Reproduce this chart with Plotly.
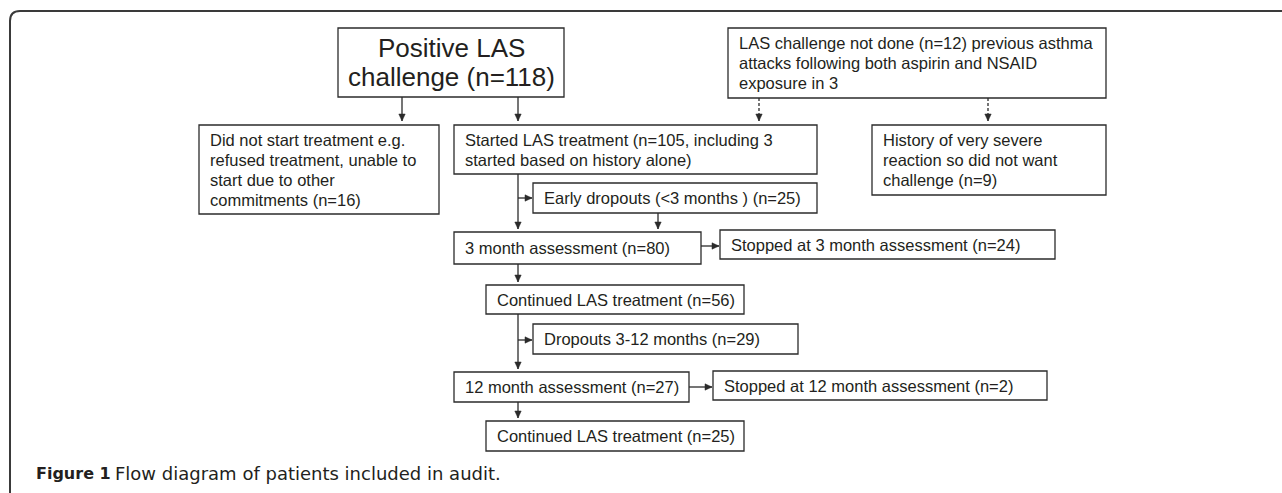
import plotly.graph_objects as go

# ---------------- data ----------------
box_keys = ["positive", "not_started", "started", "not_done", "history",
            "early_drop", "m3", "stop_m3", "cont_m3", "drop_3_12",
            "m12", "stop_m12", "cont_m12"]
box_counts = [118, 16, 105, 12, 9, 25, 80, 24, 56, 29, 27, 2, 25]
box_texts = [
    "Positive LAS|challenge (n={n})",
    "Did not start treatment e.g.|refused treatment, unable to|start due to other|commitments (n={n})",
    "Started LAS treatment (n={n}, including 3|started based on history alone)",
    "LAS challenge not done (n={n}) previous asthma|attacks following both aspirin and NSAID|exposure in 3",
    "History of very severe|reaction so did not want|challenge (n={n})",
    "Early dropouts (&lt;3 months ) (n={n})",
    "3 month assessment (n={n})",
    "Stopped at 3 month assessment (n={n})",
    "Continued LAS treatment (n={n})",
    "Dropouts 3-12 months (n={n})",
    "12 month assessment (n={n})",
    "Stopped at 12 month assessment (n={n})",
    "Continued LAS treatment (n={n})",
]
caption_bold = "Figure 1"
caption_text = "Flow diagram of patients included in audit."

# ---------------- layout geometry (pixels) ----------------
W, H = 1282, 493
geom = {
    "positive":    (338, 564, 28, 97),
    "not_started": (199, 439, 125, 214),
    "started":     (454, 817, 125, 174),
    "not_done":    (728, 1106, 28, 98),
    "history":     (872, 1106, 125, 195),
    "early_drop":  (533, 817, 183, 213),
    "m3":          (454, 701, 232, 264),
    "stop_m3":     (720, 1055, 230, 259),
    "cont_m3":     (486, 744, 285, 314),
    "drop_3_12":   (533, 798, 324, 354),
    "m12":         (454, 689, 372, 402),
    "stop_m12":    (713, 1047, 371, 400),
    "cont_m12":    (486, 744, 421, 451),
}
big_boxes = {"positive"}
SPINE = 518
# connectors: (x0, y0, x1, y1, dashed, head)
connectors = [
    (402, 97, 402, 121, False, "down"),
    (SPINE, 97, SPINE, 121, False, "down"),
    (759, 98, 759, 121, True, "down"),
    (988, 98, 988, 121, True, "down"),
    (SPINE, 174, SPINE, 229, False, "down"),
    (SPINE, 198, 532, 198, False, "right"),
    (658, 213, 658, 229, False, "down"),
    (701, 246, 719, 246, False, "right"),
    (SPINE, 264, SPINE, 282, False, "down"),
    (SPINE, 314, SPINE, 369, False, "down"),
    (SPINE, 340, 532, 340, False, "right"),
    (689, 387, 712, 387, False, "right"),
    (SPINE, 402, SPINE, 418, False, "down"),
]

INK = "#231f20"
LINE = "#2b2b2b"
shapes = []
annotations = []

# outer frame (open at right and bottom, rounded top-left corner)
shapes.append(dict(type="path", xref="x", yref="y",
                   path=f"M 10,{H} L 10,21 Q 10,11 20,11 L {W},11",
                   line=dict(color="#3a3a3a", width=2)))

for key, cnt, txt in zip(box_keys, box_counts, box_texts):
    x0, x1, y0, y1 = geom[key]
    shapes.append(dict(type="rect", xref="x", yref="y", x0=x0, x1=x1, y0=y0, y1=y1,
                       line=dict(color=LINE, width=1.3), fillcolor="white", layer="below"))
    lines = txt.format(n=cnt).split("|")
    if key in big_boxes:
        size, lh, xa, xx = 26, 29, "center", (x0 + x1) / 2
    else:
        size, lh, xa, xx = 16.5, 20, "left", x0 + 9
    yc = (y0 + y1) / 2
    nL = len(lines)
    for i, ln in enumerate(lines):
        yy = yc + (i - (nL - 1) / 2) * lh
        annotations.append(dict(x=xx, y=yy, xref="x", yref="y", text=ln,
                                showarrow=False, xanchor=xa, yanchor="middle",
                                font=dict(family="Liberation Sans, Arial, sans-serif",
                                          size=size, color=INK)))

for (ax0, ay0, ax1, ay1, dashed, head) in connectors:
    shapes.append(dict(type="line", xref="x", yref="y", x0=ax0, y0=ay0, x1=ax1, y1=ay1,
                       line=dict(color=LINE, width=1.3, dash="3px,2px" if dashed else "solid")))
    if head == "down":
        p = f"M {ax1-3.2},{ay1-7} L {ax1+3.2},{ay1-7} L {ax1},{ay1} Z"
    else:
        p = f"M {ax1-7},{ay1-3.2} L {ax1-7},{ay1+3.2} L {ax1},{ay1} Z"
    shapes.append(dict(type="path", xref="x", yref="y", path=p,
                       fillcolor=LINE, line=dict(color=LINE, width=0.5)))

# caption: bold label + regular text
annotations.append(dict(x=34, y=473, xref="x", yref="y",
                        text=f"<b>{caption_bold}</b>",
                        showarrow=False, xanchor="left", yanchor="middle",
                        font=dict(family="DejaVu Sans, sans-serif", size=16, color=INK)))
annotations.append(dict(x=113, y=473, xref="x", yref="y",
                        text=caption_text,
                        showarrow=False, xanchor="left", yanchor="middle",
                        font=dict(family="DejaVu Sans, sans-serif", size=18, color=INK)))

fig = go.Figure()
fig.update_layout(
    width=W, height=H,
    margin=dict(l=0, r=0, t=0, b=0),
    paper_bgcolor="white", plot_bgcolor="white",
    xaxis=dict(range=[0, W], visible=False, fixedrange=True),
    yaxis=dict(range=[H, 0], visible=False, fixedrange=True),
    shapes=shapes, annotations=annotations, showlegend=False,
)
fig.write_html("out.html", config={"displayModeBar": False},
               post_script="document.body.style.margin='0';document.body.style.overflow='hidden';")
